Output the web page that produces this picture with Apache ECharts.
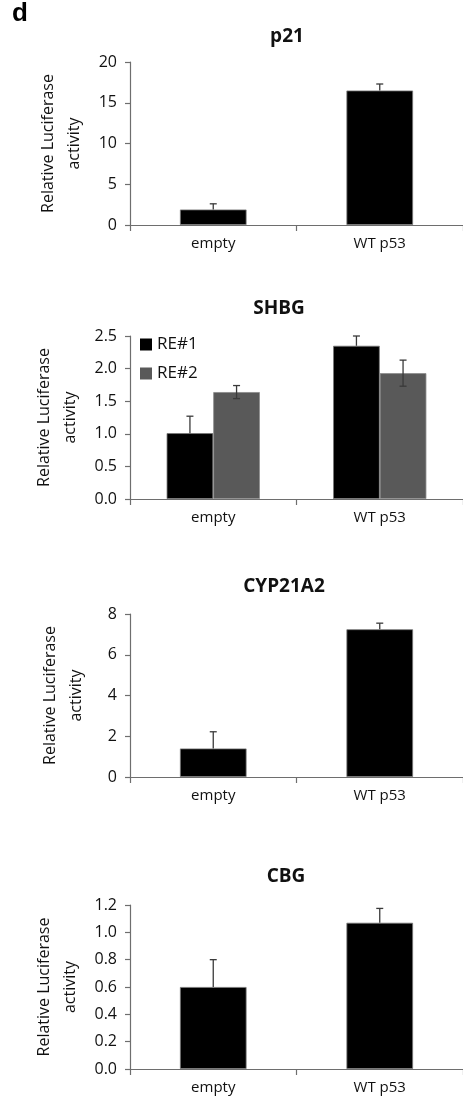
<!DOCTYPE html>
<html>
<head>
<meta charset="utf-8">
<script src="https://cdn.jsdelivr.net/npm/echarts@6/dist/echarts.min.js"></script>
<style>
html,body{margin:0;padding:0;background:#fff;}
#chart{width:463px;height:1101px;}
</style>
</head>
<body>
<div id="chart"></div>
<script>
// ---- data ----
const categories = ['empty', 'WT p53'];
const panelTitles = ['p21', 'SHBG', 'CYP21A2', 'CBG'];
const seriesNames = ['RE#1', 'RE#2'];

const p21Values = [1.9, 16.5];
const p21Errors = [0.7, 0.8];

const shbgRE1Values = [1.01, 2.35];
const shbgRE1Errors = [0.26, 0.15];
const shbgRE2Values = [1.64, 1.93];
const shbgRE2Errors = [0.10, 0.20];

const cypValues = [1.4, 7.25];
const cypErrors = [0.82, 0.3];

const cbgValues = [0.60, 1.07];
const cbgErrors = [0.20, 0.105];

const yMax = [20, 2.5, 8, 1.2];
const yInterval = [5, 0.5, 2, 0.2];
const yDecimals = [0, 1, 0, 1];

// ---- styles ----
const FONT = '"Open Sans", Lato, sans-serif';
const AXIS_COLOR = '#6e6e6e';
const TEXT_COLOR = '#111';
const ERR_COLOR = '#3a3a3a';

const gridTops = [62, 336, 614, 905];
const gridHeights = [163, 163, 163, 164];
const titleCenters = [287, 279, 284, 286];
const titleTops = [27, 299, 577, 867];

function errRender(offsetFrac, both) {
  return function (params, api) {
    const x = api.value(0), v = api.value(1), e = api.value(2);
    const band = api.size([1, 0])[0];
    const top = api.coord([x, v + e]);
    const mid = api.coord([x, v]);
    const bot = api.coord([x, v - e]);
    const cx = top[0] + offsetFrac * band;
    const cap = 3.5;
    const style = { stroke: ERR_COLOR, lineWidth: 1.3 };
    const children = [
      { type: 'line', shape: { x1: cx, y1: top[1], x2: cx, y2: both ? bot[1] : mid[1] }, style },
      { type: 'line', shape: { x1: cx - cap, y1: top[1], x2: cx + cap, y2: top[1] }, style }
    ];
    if (both) children.push({ type: 'line', shape: { x1: cx - cap, y1: bot[1], x2: cx + cap, y2: bot[1] }, style });
    return { type: 'group', children };
  };
}
function errData(vals, errs) { return vals.map((v, i) => [i, v, errs[i]]); }

const grids = [], xAxes = [], yAxes = [], titles = [];
titles.push({ text: 'd', left: 12, top: 1, padding: 0,
  textStyle: { fontFamily: 'Liberation Sans, Arial, sans-serif', fontSize: 26, fontWeight: 'bold', color: '#000' } });
for (let i = 0; i < 4; i++) {
  grids.push({ left: 130, top: gridTops[i], width: 340, height: gridHeights[i] });
  titles.push({ text: panelTitles[i], left: titleCenters[i], top: titleTops[i], textAlign: 'center', padding: 0,
    textStyle: { fontFamily: FONT, fontSize: 19, fontWeight: 'bold', color: TEXT_COLOR } });
  xAxes.push({
    type: 'category', gridIndex: i, data: categories,
    axisLine: { lineStyle: { color: AXIS_COLOR, width: 1.2 } },
    axisTick: { show: true, length: 6, lineStyle: { color: AXIS_COLOR, width: 1.2 } },
    axisLabel: { color: TEXT_COLOR, fontFamily: FONT, fontSize: 15, margin: 11 }
  });
  const d = yDecimals[i];
  yAxes.push({
    type: 'value', gridIndex: i, min: 0, max: yMax[i], interval: yInterval[i],
    name: 'Relative Luciferase\nactivity', nameLocation: 'middle', nameGap: 41,
    nameTextStyle: { color: TEXT_COLOR, fontFamily: FONT, fontSize: 16, lineHeight: 26 },
    axisLine: { show: true, lineStyle: { color: AXIS_COLOR, width: 1.2 } },
    axisTick: { show: true, length: 5, lineStyle: { color: AXIS_COLOR, width: 1.2 } },
    splitLine: { show: false },
    axisLabel: { color: TEXT_COLOR, fontFamily: FONT, fontSize: 16, margin: 13,
      formatter: v => Number(v).toFixed(d) }
  });
}

const barStyleBlack = { color: '#000', borderColor: '#777', borderWidth: 0.8 };
const barStyleGray = { color: '#595959', borderColor: '#8a8a8a', borderWidth: 0.8 };

const series = [
  { name: 'p21', type: 'bar', xAxisIndex: 0, yAxisIndex: 0, data: p21Values, barWidth: '40%', itemStyle: barStyleBlack },
  { type: 'custom', xAxisIndex: 0, yAxisIndex: 0, data: errData(p21Values, p21Errors), renderItem: errRender(0, false), z: 5 },

  { name: seriesNames[0], type: 'bar', xAxisIndex: 1, yAxisIndex: 1, data: shbgRE1Values, barWidth: '28%', barGap: '0%', itemStyle: barStyleBlack },
  { name: seriesNames[1], type: 'bar', xAxisIndex: 1, yAxisIndex: 1, data: shbgRE2Values, barWidth: '28%', barGap: '0%', itemStyle: barStyleGray },
  { type: 'custom', xAxisIndex: 1, yAxisIndex: 1, data: errData(shbgRE1Values, shbgRE1Errors), renderItem: errRender(-0.14, false), z: 5 },
  { type: 'custom', xAxisIndex: 1, yAxisIndex: 1, data: errData(shbgRE2Values, shbgRE2Errors), renderItem: errRender(0.14, true), z: 5 },

  { name: 'CYP21A2', type: 'bar', xAxisIndex: 2, yAxisIndex: 2, data: cypValues, barWidth: '40%', itemStyle: barStyleBlack },
  { type: 'custom', xAxisIndex: 2, yAxisIndex: 2, data: errData(cypValues, cypErrors), renderItem: errRender(0, false), z: 5 },

  { name: 'CBG', type: 'bar', xAxisIndex: 3, yAxisIndex: 3, data: cbgValues, barWidth: '40%', itemStyle: barStyleBlack },
  { type: 'custom', xAxisIndex: 3, yAxisIndex: 3, data: errData(cbgValues, cbgErrors), renderItem: errRender(0, false), z: 5 }
];

const chart = echarts.init(document.getElementById('chart'), null, { renderer: 'canvas' });
chart.setOption({
  animation: false,
  backgroundColor: '#fff',
  title: titles,
  legend: {
    data: seriesNames, orient: 'vertical', left: 140, top: 336, itemWidth: 12, itemHeight: 12, itemGap: 12,
    icon: 'rect', padding: 0, itemStyle: { borderWidth: 0 },
    textStyle: { color: TEXT_COLOR, fontFamily: FONT, fontSize: 17 }
  },
  grid: grids, xAxis: xAxes, yAxis: yAxes, series
});
</script>
</body>
</html>
